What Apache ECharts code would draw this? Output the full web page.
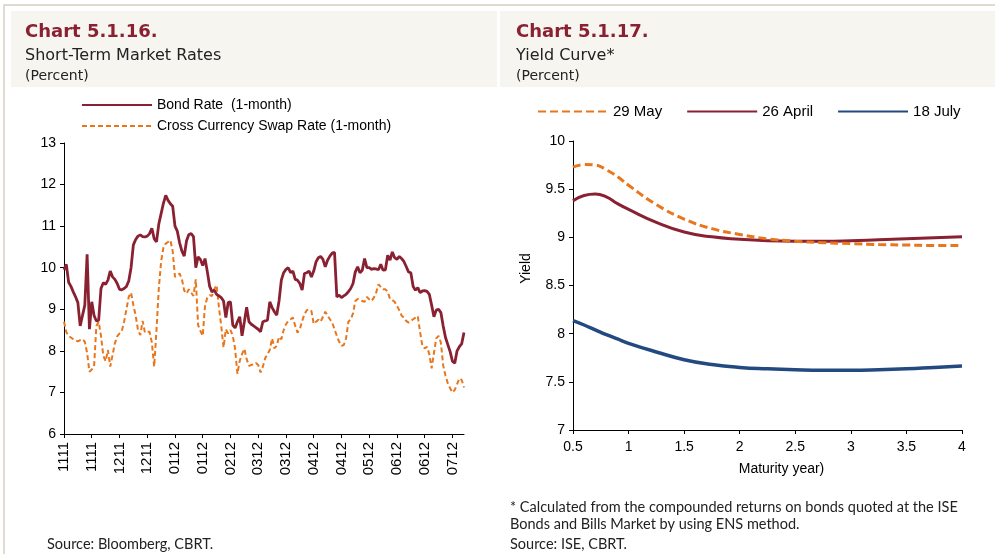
<!DOCTYPE html>
<html>
<head>
<meta charset="utf-8">
<script src="https://cdn.jsdelivr.net/npm/echarts@6/dist/echarts.min.js"></script>
<style>
    html, body { margin: 0; padding: 0; background: #ffffff; }
    #main { width: 995px; height: 554px; }
</style>
</head>
<body>
<div id="main"></div>
<script>
// Chart 5.1.16 - x axis tick labels (one every 12 trading days)
var tickLabels = ['1111', '1111', '1211', '1211', '0112', '0112', '0212', '0312', '0312', '0412', '0412', '0512', '0612', '0612', '0712'];

var bondRate = [
    9.95, 10.08, 9.65, 9.55, 9.42, 9.30, 9.16, 8.60, 8.85, 9.10,
    10.32, 8.52, 9.18, 8.85, 8.72, 8.74, 9.50, 9.64, 9.60, 9.70,
    9.92, 9.78, 9.72, 9.62, 9.48, 9.47, 9.50, 9.55, 9.68, 10.00,
    10.55, 10.68, 10.76, 10.79, 10.75, 10.74, 10.76, 10.82, 10.95, 10.70,
    10.62, 11.05, 11.30, 11.55, 11.74, 11.62, 11.54, 11.48, 11.00, 10.88,
    10.60, 10.40, 10.28, 10.65, 10.80, 10.82, 10.75, 10.00, 10.26, 10.20,
    10.05, 10.22, 9.90, 9.55, 9.42, 9.46, 9.36, 9.32, 9.28, 9.20,
    8.80, 9.16, 9.18, 8.62, 8.55, 8.70, 8.82, 8.36, 8.70, 9.05,
    8.70, 8.64, 8.60, 8.56, 8.52, 8.46, 8.70, 8.72, 8.74, 9.18,
    9.04, 8.94, 8.86, 9.20, 9.70, 9.88, 9.96, 10.00, 9.88, 9.92,
    9.72, 9.70, 9.62, 9.46, 9.86, 9.88, 9.92, 9.78, 9.92, 10.14,
    10.24, 10.27, 10.20, 10.02, 10.18, 10.28, 10.35, 10.37, 9.30, 9.34,
    9.28, 9.32, 9.36, 9.42, 9.50, 9.62, 9.90, 10.02, 9.88, 9.94,
    10.22, 10.00, 10.00, 9.96, 9.98, 9.97, 9.95, 10.08, 9.94, 9.95,
    10.30, 10.18, 10.38, 10.24, 10.20, 10.27, 10.22, 10.15, 10.03, 9.90,
    9.88, 9.55, 9.46, 9.52, 9.40, 9.44, 9.45, 9.43, 9.36, 9.10,
    8.82, 8.98, 9.00, 8.92, 8.60, 8.32, 8.15, 7.98, 7.75, 7.70,
    8.00, 8.10, 8.17, 8.44
];

var swapRate = [
    8.70, 8.45, 8.36, 8.32, 8.28, 8.25, 8.23, 8.26, 8.28, 8.22,
    7.95, 7.50, 7.55, 7.62, 8.60, 8.70, 8.36, 7.88, 7.75, 8.02,
    7.62, 7.90, 8.18, 8.35, 8.42, 8.48, 8.70, 9.00, 9.30, 9.40,
    9.10, 8.85, 8.50, 8.38, 8.72, 8.44, 8.46, 8.46, 8.20, 7.62,
    8.50, 9.50, 10.15, 10.48, 10.58, 10.62, 10.66, 10.40, 9.78, 9.82,
    9.86, 9.72, 9.45, 9.38, 9.48, 9.40, 9.32, 9.72, 8.62, 8.48,
    8.36, 9.10, 9.28, 9.34, 9.32, 9.48, 9.58, 9.05, 8.60, 8.08,
    8.52, 8.42, 8.50, 8.36, 8.05, 7.45, 7.76, 7.92, 8.05, 7.80,
    7.64, 7.66, 7.68, 7.71, 7.66, 7.48, 7.62, 7.82, 7.92, 8.02,
    8.30, 8.06, 8.12, 8.34, 8.28, 8.50, 8.64, 8.72, 8.76, 8.80,
    8.60, 8.44, 8.52, 8.72, 8.88, 8.98, 9.00, 8.96, 8.65, 8.70,
    8.75, 8.70, 8.82, 8.94, 8.85, 8.76, 8.68, 8.52, 8.36, 8.22,
    8.12, 8.14, 8.30, 8.70, 8.76, 8.90, 9.20, 9.25, 9.22, 9.20,
    9.18, 9.30, 9.24, 9.20, 9.28, 9.40, 9.60, 9.54, 9.48, 9.48,
    9.42, 9.25, 9.22, 9.18, 9.08, 8.98, 8.85, 8.80, 8.72, 8.68,
    8.72, 8.76, 8.80, 8.84, 8.45, 8.12, 8.06, 8.10, 7.92, 7.58,
    7.95, 8.30, 8.36, 8.20, 7.65, 7.40, 7.22, 7.10, 7.00, 7.06,
    7.20, 7.34, 7.30, 7.12
];

// Chart 5.1.17 - yield curves
var maturity = [0.5, 0.6, 0.7, 0.8, 0.9, 1.0, 1.25, 1.5, 1.75, 2.0, 2.25, 2.5, 2.75, 3.0, 3.25, 3.5, 3.75, 4.0];
var may29 = [9.73, 9.755, 9.75, 9.70, 9.63, 9.54, 9.34, 9.19, 9.09, 9.03, 8.985, 8.96, 8.945, 8.935, 8.925, 8.92, 8.915, 8.915];
var apr26 = [9.38, 9.435, 9.45, 9.42, 9.35, 9.29, 9.155, 9.055, 9.005, 8.98, 8.965, 8.96, 8.96, 8.965, 8.975, 8.985, 8.995, 9.005];
var jul18 = [8.135, 8.09, 8.04, 7.99, 7.945, 7.90, 7.81, 7.73, 7.68, 7.65, 7.635, 7.625, 7.62, 7.62, 7.625, 7.635, 7.65, 7.665];

var RED = '#8a2132';
var ORANGE = '#e8761c';
var BLUE = '#234a80';
var FONT = '"Liberation Sans", Arial, sans-serif';
var HEAD_FONT = '"DejaVu Sans", sans-serif';
var NOTE_FONT = 'Lato, "Open Sans", sans-serif';

var dayLabels = bondRate.map(function (v, i) { return tickLabels[Math.floor(i / 12)]; });

function pairs(xs, ys) {
    return xs.map(function (x, i) { return [x, ys[i]]; });
}

var chart = echarts.init(document.getElementById('main'), null, { renderer: 'canvas' });

var axisBlack = { lineStyle: { color: '#000', width: 1 } };

var option = {
    backgroundColor: '#ffffff',
    animation: false,
    textStyle: { fontFamily: FONT },
    graphic: [
        // frame and header bands
        { type: 'polyline', shape: { points: [[4, 554], [4, 5], [995, 5]] }, style: { stroke: '#d8cfc0', lineWidth: 1.5, fill: null } },
        { type: 'rect', shape: { x: 11, y: 11, width: 486, height: 76 }, style: { fill: '#f7f5f0' } },
        { type: 'rect', shape: { x: 500, y: 11, width: 495, height: 76 }, style: { fill: '#f7f5f0' } },
        { type: 'text', left: 25, top: 23, style: { text: 'Chart 5.1.16.', fill: RED, font: 'bold 18px ' + HEAD_FONT } },
        { type: 'text', left: 25, top: 48, style: { text: 'Short-Term Market Rates', fill: '#222', font: '16px ' + HEAD_FONT } },
        { type: 'text', left: 25, top: 69, style: { text: '(Percent)', fill: '#222', font: '14px ' + HEAD_FONT } },
        { type: 'text', left: 516, top: 23, style: { text: 'Chart 5.1.17.', fill: RED, font: 'bold 18px ' + HEAD_FONT } },
        { type: 'text', left: 516, top: 48, style: { text: 'Yield Curve*', fill: '#222', font: '16px ' + HEAD_FONT } },
        { type: 'text', left: 516, top: 69, style: { text: '(Percent)', fill: '#222', font: '14px ' + HEAD_FONT } },
        // footnotes
        { type: 'text', left: 47, top: 537, style: { text: 'Source: Bloomberg, CBRT.', fill: '#222', font: '14.5px ' + NOTE_FONT } },
        { type: 'text', left: 510, top: 500, style: { text: '* Calculated from the compounded returns on bonds quoted at the ISE', fill: '#222', font: '14.5px ' + NOTE_FONT } },
        { type: 'text', left: 510, top: 517, style: { text: 'Bonds and Bills Market by using ENS method.', fill: '#222', font: '14.5px ' + NOTE_FONT } },
        { type: 'text', left: 510, top: 537, style: { text: 'Source: ISE, CBRT.', fill: '#222', font: '14.5px ' + NOTE_FONT } }
    ],
    legend: [
        {
            orient: 'vertical',
            left: 76,
            top: 93,
            itemWidth: 70,
            itemHeight: 10,
            itemGap: 7,
            itemStyle: { opacity: 0 },
            textStyle: { fontSize: 14, color: '#000', fontFamily: FONT },
            data: ['Bond Rate  (1-month)', 'Cross Currency Swap Rate (1-month)']
        },
        {
            orient: 'horizontal',
            left: 532,
            top: 99,
            itemWidth: 70,
            itemHeight: 10,
            itemGap: 24,
            itemStyle: { opacity: 0 },
            textStyle: { fontSize: 15, color: '#000', fontFamily: FONT },
            data: ['29 May', '26 April', '18 July']
        }
    ],
    grid: [
        { left: 64, right: 531, top: 143, bottom: 120 },
        { left: 573, right: 33, top: 141, bottom: 124 }
    ],
    xAxis: [
        {
            type: 'category',
            gridIndex: 0,
            data: dayLabels,
            boundaryGap: false,
            axisLine: axisBlack,
            axisTick: { interval: 11, length: 4, lineStyle: { color: '#000' } },
            axisLabel: { interval: 11, rotate: 90, fontSize: 15, fontFamily: FONT, color: '#000', margin: 8 },
            splitLine: { show: false }
        },
        {
            type: 'value',
            gridIndex: 1,
            min: 0.5,
            max: 4,
            interval: 0.5,
            name: 'Maturity year)',
            nameLocation: 'middle',
            nameGap: 32,
            nameTextStyle: { fontSize: 14, fontFamily: FONT, color: '#000', padding: [0, 0, 0, 28] },
            axisLine: axisBlack,
            axisTick: { length: 4, lineStyle: { color: '#000' } },
            axisLabel: { fontSize: 14, fontFamily: FONT, color: '#000', margin: 10 },
            splitLine: { show: false }
        }
    ],
    yAxis: [
        {
            type: 'value',
            gridIndex: 0,
            min: 6,
            max: 13,
            interval: 1,
            axisLine: { show: true, lineStyle: { color: '#000' } },
            axisTick: { show: true, length: 4, lineStyle: { color: '#000' } },
            axisLabel: { fontSize: 14, fontFamily: FONT, color: '#000', margin: 8 },
            splitLine: { show: false }
        },
        {
            type: 'value',
            gridIndex: 1,
            min: 7,
            max: 10,
            interval: 0.5,
            name: 'Yield',
            nameLocation: 'middle',
            nameGap: 40,
            nameRotate: 90,
            nameTextStyle: { fontSize: 14, fontFamily: FONT, color: '#000', padding: [0, 0, 0, 34] },
            axisLine: { show: true, lineStyle: { color: '#000' } },
            axisTick: { show: true, length: 4, lineStyle: { color: '#000' } },
            axisLabel: { fontSize: 14, fontFamily: FONT, color: '#000', margin: 8 },
            splitLine: { show: false }
        }
    ],
    series: [
        {
            name: 'Bond Rate  (1-month)',
            type: 'line',
            xAxisIndex: 0,
            yAxisIndex: 0,
            data: bondRate,
            symbol: 'none',
            z: 3,
            lineStyle: { color: RED, width: 2.8 },
            itemStyle: { color: RED }
        },
        {
            name: 'Cross Currency Swap Rate (1-month)',
            type: 'line',
            xAxisIndex: 0,
            yAxisIndex: 0,
            data: swapRate,
            symbol: 'none',
            z: 2,
            lineStyle: { color: ORANGE, width: 2, type: [5, 3] },
            itemStyle: { color: ORANGE }
        },
        {
            name: '29 May',
            type: 'line',
            xAxisIndex: 1,
            yAxisIndex: 1,
            data: pairs(maturity, may29),
            smooth: true,
            symbol: 'none',
            z: 4,
            lineStyle: { color: ORANGE, width: 3, type: [8, 4] },
            itemStyle: { color: ORANGE }
        },
        {
            name: '26 April',
            type: 'line',
            xAxisIndex: 1,
            yAxisIndex: 1,
            data: pairs(maturity, apr26),
            smooth: true,
            symbol: 'none',
            z: 3,
            lineStyle: { color: RED, width: 3 },
            itemStyle: { color: RED }
        },
        {
            name: '18 July',
            type: 'line',
            xAxisIndex: 1,
            yAxisIndex: 1,
            data: pairs(maturity, jul18),
            smooth: true,
            symbol: 'none',
            z: 3,
            lineStyle: { color: BLUE, width: 3.5 },
            itemStyle: { color: BLUE }
        }
    ]
};

option && chart.setOption(option);
</script>
</body>
</html>
